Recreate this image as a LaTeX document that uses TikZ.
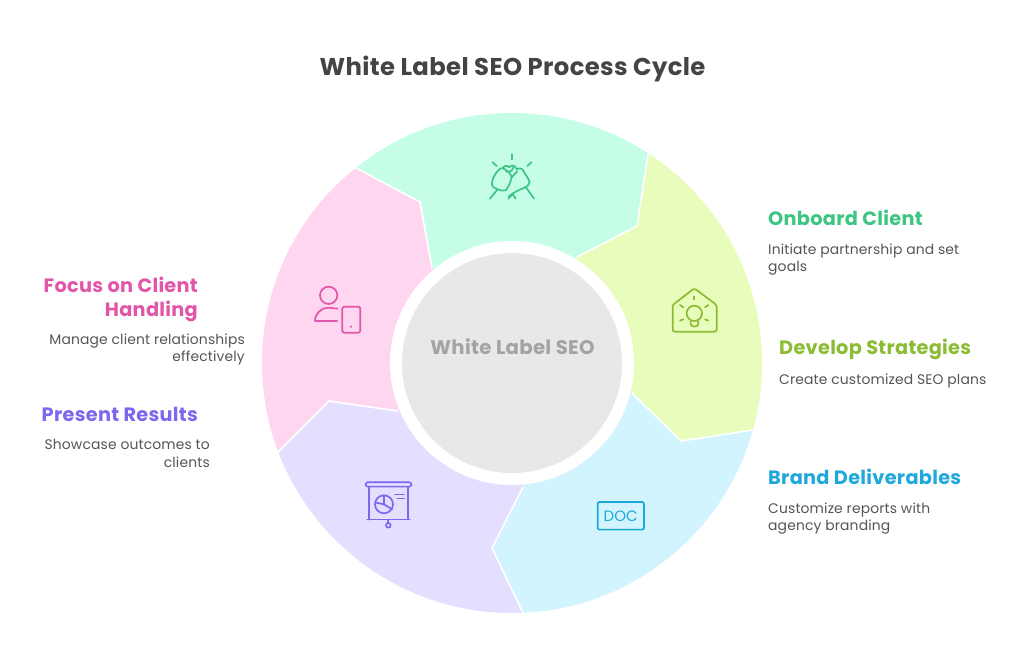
\documentclass[tikz,border=0pt]{standalone}
\usepackage{fontspec}
\setmainfont{Poppins}
\newfontfamily\hdf[LetterSpace=1.5]{Poppins}
\newfontfamily\bdf[LetterSpace=1]{Poppins}
\usetikzlibrary{calc}
\definecolor{ctitle}{HTML}{444444}
\definecolor{cbody}{HTML}{555555}
\definecolor{fgreen}{HTML}{C5FDE7}
\definecolor{flime}{HTML}{E8FDBC}
\definecolor{fblue}{HTML}{D1F4FF}
\definecolor{fpurple}{HTML}{E5DFFF}
\definecolor{fpink}{HTML}{FFD6F0}
\definecolor{fcore}{HTML}{E8E8E8}
\definecolor{ccore}{HTML}{A3A3A3}
\definecolor{cgreen}{HTML}{3CC583}
\definecolor{clime}{HTML}{8CBC33}
\definecolor{cblue}{HTML}{1EA8DC}
\definecolor{cpurple}{HTML}{7B68EE}
\definecolor{cpink}{HTML}{E255A8}
\tikzset{
  hd/.style={font=\hdf\fontsize{19.3}{24}\selectfont\bfseries,inner sep=0pt},
  bd/.style={font=\bdf\fontsize{13.9}{17.5}\selectfont,text=cbody,inner sep=0pt},
  divider/.style={draw=white,line width=1.6pt,line join=round},
  icon/.style={line width=1.7pt,line cap=round,line join=round,fill=none},
  zoomA/.style={shift={(340,100)},x=0.3333pt,y=-0.3333pt},
  zoomB/.style={shift={(260,260)},x=0.3333pt,y=-0.3333pt},
  zoomC/.style={shift={(480,260)},x=0.3333pt,y=-0.3333pt},
}
\begin{document}
\begin{tikzpicture}[x=1pt,y=-1pt]
\path[use as bounding box,fill=white] (0,0) rectangle (1024,669);
\coordinate (O) at (512,363);
% rim points, notches and inner ends of the dividers
\coordinate (A) at (356,168); \coordinate (A1) at (420,202); \coordinate (A2) at (432,268); \coordinate (Ax) at (309,109);
\coordinate (B) at (648,155); \coordinate (B1) at (637,226); \coordinate (B2) at (577,257); \coordinate (Bx) at (689,93);
\coordinate (C) at (753,430); \coordinate (C1) at (681,441); \coordinate (C2) at (632,393); \coordinate (Cx) at (825,450);
\coordinate (D) at (523,613); \coordinate (D1) at (492,548); \coordinate (D2) at (523,487); \coordinate (Dx) at (526,688);
\coordinate (E) at (278,452); \coordinate (E1) at (329,401); \coordinate (E2) at (398,411); \coordinate (Ex) at (208,479);
\begin{scope}
  \clip (O) circle[radius=250];
  \fill[fgreen] (O) -- (A2) -- (A1) -- (A) -- (Ax) -- (Bx) -- (B) -- (B1) -- (B2) -- cycle;
  \fill[flime] (O) -- (B2) -- (B1) -- (B) -- (Bx) -- (Cx) -- (C) -- (C1) -- (C2) -- cycle;
  \fill[fblue] (O) -- (C2) -- (C1) -- (C) -- (Cx) -- (Dx) -- (D) -- (D1) -- (D2) -- cycle;
  \fill[fpurple] (O) -- (D2) -- (D1) -- (D) -- (Dx) -- (Ex) -- (E) -- (E1) -- (E2) -- cycle;
  \fill[fpink] (O) -- (E2) -- (E1) -- (E) -- (Ex) -- (Ax) -- (A) -- (A1) -- (A2) -- cycle;
  \draw[divider] (Ax) -- (A) -- (A1) -- (A2);
  \draw[divider] (Bx) -- (B) -- (B1) -- (B2);
  \draw[divider] (Cx) -- (C) -- (C1) -- (C2);
  \draw[divider] (Dx) -- (D) -- (D1) -- (D2);
  \draw[divider] (Ex) -- (E) -- (E1) -- (E2);
\end{scope}
\fill[white] (O) circle[radius=122];
\fill[fcore] (O) circle[radius=110];
% handshake icon
\begin{scope}[zoomA,icon,draw=cgreen]
  \draw (515,163) -- (515,178);
  \draw (458,187) -- (470,198);
  \draw (574,187) -- (562,198);
  \draw (450,296) -- (473,268);
  \draw (582,296) -- (558,262);
  \draw (505,296) -- (518,283) -- (527,296);
  \draw (473,268) .. controls (462,264) and (453,258) .. (456,248) .. controls (458,240) and (458,234) .. (464,226) .. controls (470,216) and (478,204) .. (488,204) .. controls (500,210) and (512,220) .. (515,232) .. controls (512,246) and (506,260) .. (497,271) .. controls (490,273) and (480,272) .. (473,268);
  \draw (490,206) .. controls (488,198) and (500,194) .. (508,202) .. controls (510,194) and (528,194) .. (530,208);
  \draw (498,214) .. controls (508,218) and (518,212) .. (520,202);
  \draw (530,208) .. controls (540,202) and (548,206) .. (552,216) .. controls (558,226) and (566,236) .. (569,247) .. controls (568,255) and (562,259) .. (554,263) .. controls (538,270) and (520,276) .. (506,290);
  \draw (515,232) .. controls (520,226) and (526,220) .. (532,214);
\end{scope}
% house and bulb icon
\begin{scope}[zoomC,icon,draw=clime]
  \draw[rounded corners=2.2pt] (578,135) -- (643,85) -- (710,135) -- (710,215) -- (578,215) -- cycle;
  \draw (643,160) circle[radius=23];
  \draw (632,183) -- (632,192) .. controls (632,202) and (655,202) .. (655,192) -- (655,183);
  \draw (643,110) -- (643,118);
  \draw (600,135) -- (610,142);
  \draw (685,135) -- (675,142);
  \draw (600,182) -- (610,178);
  \draw (685,182) -- (675,178);
\end{scope}
% person and tablet icon
\begin{scope}[zoomB,icon,draw=cpink]
  \draw (206,106) circle[radius=26];
  \draw (232,183) -- (165,183) .. controls (165,160) and (185,143) .. (205,143) -- (232,146);
  \draw[rounded corners=1.5pt] (247,140) rectangle (301,218);
  \fill[cpink] (273,200) circle[radius=3.5];
\end{scope}
% presentation icon
\begin{scope}[zoomB,icon,draw=cpurple]
  \draw[rounded corners=1.5pt] (317,667) rectangle (454,680);
  \draw (328,680) -- (328,779);
  \draw (443,680) -- (443,779);
  \draw (322,779) -- (449,779);
  \draw (385,779) -- (385,789);
  \draw (385,796) circle[radius=7];
  \draw (372,733) circle[radius=27];
  \draw (372,706) -- (372,733) -- (348,728);
  \draw (372,733) -- (396,748);
  \draw (405,704) -- (432,704);
  \draw (412,716) -- (432,716);
\end{scope}
% document icon
\begin{scope}[zoomC,icon,draw=cblue]
  \draw[rounded corners=1.5pt] (353,726) rectangle (492,809);
  \node[font=\fontsize{15}{15}\selectfont,text=cblue,inner sep=0pt] (doc) at (422,770) {DOC};
\end{scope}
% texts
\node[font=\hdf\fontsize{24.3}{28}\selectfont\bfseries,text=ctitle,inner sep=0pt] (title) at (512.5,68.5) {White Label SEO Process Cycle};
\node[font=\hdf\fontsize{19.7}{24}\selectfont\bfseries,text=ccore,inner sep=0pt] (core) at (512.5,347) {White Label SEO};
\node[hd,text=cgreen,anchor=west] (h1) at (768,218) {Onboard Client};
\node[bd,anchor=north west,align=left] (b1) at (768,243.5) {Initiate partnership and set\\goals};
\node[hd,text=clime,anchor=west] (h2) at (779,349) {Develop Strategies};
\node[bd,anchor=west] (b2) at (779,381.5) {Create customized SEO plans};
\node[hd,text=cblue,anchor=west] (h3) at (768,477) {Brand Deliverables};
\node[bd,anchor=north west,align=left] (b3) at (768,502.5) {Customize reports with\\agency branding};
\node[hd,text=cpink,anchor=north east,align=right] (h5) at (198,276.5) {Focus on Client\\Handling};
\node[bd,anchor=north east,align=right] (b5) at (245,333.5) {Manage client relationships\\effectively};
\node[hd,text=cpurple,anchor=east] (h4) at (198,414) {Present Results};
\node[bd,anchor=north east,align=right] (b4) at (210,439.5) {Showcase outcomes to\\clients};
\end{tikzpicture}
\end{document}
